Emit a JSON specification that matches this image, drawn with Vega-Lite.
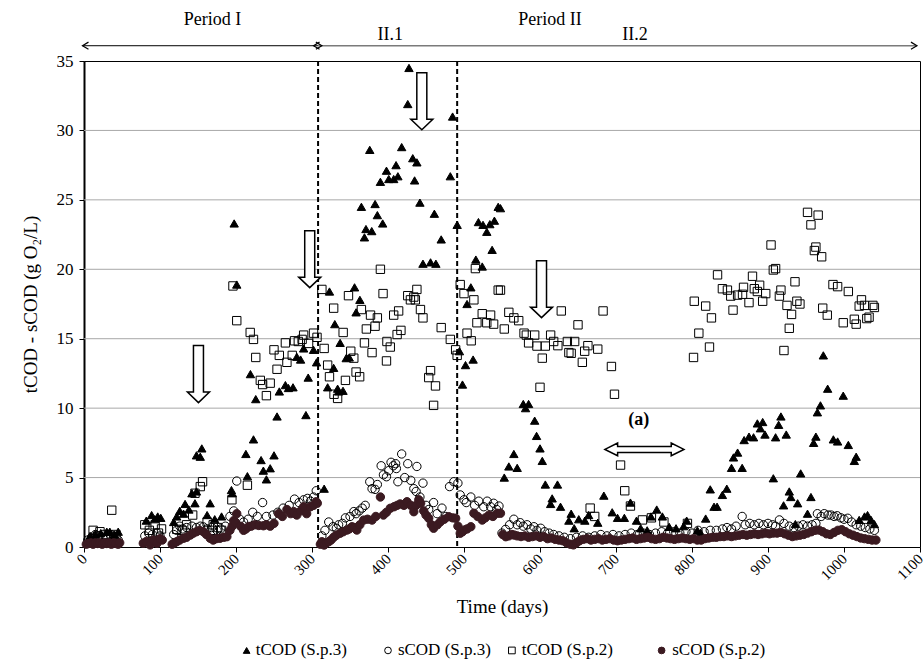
{
"$schema": "https://vega.github.io/schema/vega-lite/v6.json",
"width": 836, "height": 486,
"autosize": {"type": "none"},
"padding": {"left": 84, "top": 61, "right": 4, "bottom": 118},
"background": "white",
"config": {"font": "Liberation Serif", "view": {"stroke": "black", "strokeWidth": 1},
  "axisX": {"labelOverlap": false, "labelFlush": false, "grid": false, "labelAngle": -45, "labelAlign": "right", "labelBaseline": "middle", "labelFontSize": 15, "labelColor": "black", "tickColor": "black", "domainColor": "black"},
  "axisY": {"labelOverlap": false, "grid": false, "labelFontSize": 17, "labelColor": "black", "tickColor": "black", "domainColor": "black"}},
"datasets": {
"pts": [
{"s":"tCOD (S.p.3)","d":8,"v":0.8},{"s":"tCOD (S.p.3)","d":15,"v":0.9},{"s":"tCOD (S.p.3)","d":22,"v":1.0},{"s":"tCOD (S.p.3)","d":30,"v":1.1},{"s":"tCOD (S.p.3)","d":34,"v":1.1},{"s":"tCOD (S.p.3)","d":40,"v":0.9},{"s":"tCOD (S.p.3)","d":45,"v":1.1},
{"s":"tCOD (S.p.3)","d":82,"v":1.9},{"s":"tCOD (S.p.3)","d":89,"v":2.3},{"s":"tCOD (S.p.3)","d":93,"v":2.0},{"s":"tCOD (S.p.3)","d":97,"v":2.2},{"s":"tCOD (S.p.3)","d":101,"v":2.1},
{"s":"tCOD (S.p.3)","d":118,"v":1.8},{"s":"tCOD (S.p.3)","d":122,"v":2.2},{"s":"tCOD (S.p.3)","d":126,"v":2.6},{"s":"tCOD (S.p.3)","d":131,"v":2.4},{"s":"tCOD (S.p.3)","d":133,"v":3.1},{"s":"tCOD (S.p.3)","d":138,"v":2.7},{"s":"tCOD (S.p.3)","d":142,"v":3.87},{"s":"tCOD (S.p.3)","d":146,"v":3.15},{"s":"tCOD (S.p.3)","d":148,"v":4.0},{"s":"tCOD (S.p.3)","d":148,"v":6.6},{"s":"tCOD (S.p.3)","d":153,"v":6.5},{"s":"tCOD (S.p.3)","d":155,"v":7.1},{"s":"tCOD (S.p.3)","d":162,"v":2.3},{"s":"tCOD (S.p.3)","d":166,"v":3.15},{"s":"tCOD (S.p.3)","d":172,"v":2.0},{"s":"tCOD (S.p.3)","d":181,"v":2.2},{"s":"tCOD (S.p.3)","d":194,"v":4.1},{"s":"tCOD (S.p.3)","d":195,"v":3.87},{"s":"tCOD (S.p.3)","d":197.6,"v":23.3},{"s":"tCOD (S.p.3)","d":201,"v":18.9},{"s":"tCOD (S.p.3)","d":213,"v":6.7},{"s":"tCOD (S.p.3)","d":215,"v":5.1},{"s":"tCOD (S.p.3)","d":219,"v":12.45},{"s":"tCOD (S.p.3)","d":223,"v":7.75},{"s":"tCOD (S.p.3)","d":226,"v":10.65},{"s":"tCOD (S.p.3)","d":233,"v":6.26},{"s":"tCOD (S.p.3)","d":236,"v":5.5},{"s":"tCOD (S.p.3)","d":240,"v":4.87},{"s":"tCOD (S.p.3)","d":245,"v":5.67},{"s":"tCOD (S.p.3)","d":250,"v":6.6},{"s":"tCOD (S.p.3)","d":254,"v":9.4},{"s":"tCOD (S.p.3)","d":257,"v":11.2},{"s":"tCOD (S.p.3)","d":265,"v":11.66},{"s":"tCOD (S.p.3)","d":269,"v":11.45},{"s":"tCOD (S.p.3)","d":275,"v":11.5},{"s":"tCOD (S.p.3)","d":280,"v":13.7},{"s":"tCOD (S.p.3)","d":285,"v":13.5},{"s":"tCOD (S.p.3)","d":289,"v":14.3},{"s":"tCOD (S.p.3)","d":292,"v":9.5},{"s":"tCOD (S.p.3)","d":295,"v":12.2},{"s":"tCOD (S.p.3)","d":302,"v":14.2},{"s":"tCOD (S.p.3)","d":306,"v":13.3},
{"s":"tCOD (S.p.3)","d":316,"v":4.2},{"s":"tCOD (S.p.3)","d":320.6,"v":11.5},{"s":"tCOD (S.p.3)","d":323,"v":18.4},{"s":"tCOD (S.p.3)","d":328.5,"v":12.9},{"s":"tCOD (S.p.3)","d":330,"v":16.05},{"s":"tCOD (S.p.3)","d":333.7,"v":11.4},{"s":"tCOD (S.p.3)","d":335,"v":11.2},{"s":"tCOD (S.p.3)","d":337,"v":14.7},{"s":"tCOD (S.p.3)","d":340.8,"v":11.25},{"s":"tCOD (S.p.3)","d":345,"v":13.6},{"s":"tCOD (S.p.3)","d":349,"v":13.65},{"s":"tCOD (S.p.3)","d":356,"v":18.7},{"s":"tCOD (S.p.3)","d":358,"v":16.9},{"s":"tCOD (S.p.3)","d":363,"v":17.8},{"s":"tCOD (S.p.3)","d":365,"v":24.5},{"s":"tCOD (S.p.3)","d":369,"v":22.3},{"s":"tCOD (S.p.3)","d":371,"v":22.9},{"s":"tCOD (S.p.3)","d":376,"v":28.6},{"s":"tCOD (S.p.3)","d":378.6,"v":22.75},{"s":"tCOD (S.p.3)","d":383,"v":24.7},{"s":"tCOD (S.p.3)","d":386,"v":23.9},{"s":"tCOD (S.p.3)","d":390,"v":26.3},{"s":"tCOD (S.p.3)","d":393,"v":23.3},{"s":"tCOD (S.p.3)","d":398,"v":27.1},{"s":"tCOD (S.p.3)","d":401,"v":26.5},{"s":"tCOD (S.p.3)","d":407.5,"v":26.5},{"s":"tCOD (S.p.3)","d":410.6,"v":27.5},{"s":"tCOD (S.p.3)","d":413,"v":26.7},{"s":"tCOD (S.p.3)","d":418,"v":28.8},{"s":"tCOD (S.p.3)","d":426,"v":31.9},{"s":"tCOD (S.p.3)","d":427.6,"v":34.5},{"s":"tCOD (S.p.3)","d":432.6,"v":28.0},{"s":"tCOD (S.p.3)","d":435,"v":26.4},{"s":"tCOD (S.p.3)","d":438,"v":27.7},{"s":"tCOD (S.p.3)","d":442,"v":24.8},{"s":"tCOD (S.p.3)","d":446,"v":20.4},{"s":"tCOD (S.p.3)","d":456,"v":20.5},{"s":"tCOD (S.p.3)","d":461,"v":24.0},{"s":"tCOD (S.p.3)","d":463,"v":20.4},{"s":"tCOD (S.p.3)","d":470,"v":22.15},{"s":"tCOD (S.p.3)","d":482,"v":26.7},{"s":"tCOD (S.p.3)","d":485,"v":31.0},{"s":"tCOD (S.p.3)","d":491,"v":23.2},{"s":"tCOD (S.p.3)","d":494,"v":14.1},{"s":"tCOD (S.p.3)","d":498,"v":11.7},{"s":"tCOD (S.p.3)","d":502,"v":13.1},{"s":"tCOD (S.p.3)","d":504,"v":17.5},{"s":"tCOD (S.p.3)","d":509,"v":18.7},{"s":"tCOD (S.p.3)","d":512,"v":13.5},{"s":"tCOD (S.p.3)","d":515.6,"v":20.7},{"s":"tCOD (S.p.3)","d":519,"v":23.4},{"s":"tCOD (S.p.3)","d":524,"v":20.2},{"s":"tCOD (S.p.3)","d":525,"v":23.2},{"s":"tCOD (S.p.3)","d":530,"v":22.7},{"s":"tCOD (S.p.3)","d":534,"v":23.25},{"s":"tCOD (S.p.3)","d":537,"v":21.4},{"s":"tCOD (S.p.3)","d":540,"v":23.5},{"s":"tCOD (S.p.3)","d":545,"v":24.5},{"s":"tCOD (S.p.3)","d":548,"v":24.4},
{"s":"tCOD (S.p.3)","d":553,"v":5.0},{"s":"tCOD (S.p.3)","d":559,"v":5.8},{"s":"tCOD (S.p.3)","d":565.6,"v":6.7},{"s":"tCOD (S.p.3)","d":570,"v":5.7},{"s":"tCOD (S.p.3)","d":578,"v":10.3},{"s":"tCOD (S.p.3)","d":581,"v":10.0},{"s":"tCOD (S.p.3)","d":585,"v":10.3},{"s":"tCOD (S.p.3)","d":593,"v":9.1},{"s":"tCOD (S.p.3)","d":595.5,"v":8.0},{"s":"tCOD (S.p.3)","d":600,"v":7.1},{"s":"tCOD (S.p.3)","d":603,"v":6.2},{"s":"tCOD (S.p.3)","d":607,"v":4.5},{"s":"tCOD (S.p.3)","d":614,"v":3.1},{"s":"tCOD (S.p.3)","d":616,"v":3.5},{"s":"tCOD (S.p.3)","d":623,"v":4.5},{"s":"tCOD (S.p.3)","d":627,"v":2.9},{"s":"tCOD (S.p.3)","d":638,"v":1.9},{"s":"tCOD (S.p.3)","d":641,"v":2.4},{"s":"tCOD (S.p.3)","d":645,"v":1.35},{"s":"tCOD (S.p.3)","d":651,"v":2.0},{"s":"tCOD (S.p.3)","d":659,"v":1.9},{"s":"tCOD (S.p.3)","d":664,"v":2.3},{"s":"tCOD (S.p.3)","d":676,"v":1.75},{"s":"tCOD (S.p.3)","d":684,"v":3.7},{"s":"tCOD (S.p.3)","d":695,"v":2.5},{"s":"tCOD (S.p.3)","d":702,"v":2.1},{"s":"tCOD (S.p.3)","d":711,"v":2.1},{"s":"tCOD (S.p.3)","d":719,"v":3.2},{"s":"tCOD (S.p.3)","d":727,"v":1.9},{"s":"tCOD (S.p.3)","d":732.5,"v":1.35},{"s":"tCOD (S.p.3)","d":741,"v":1.2},{"s":"tCOD (S.p.3)","d":746,"v":2.2},{"s":"tCOD (S.p.3)","d":753.6,"v":2.7},{"s":"tCOD (S.p.3)","d":761,"v":2.2},{"s":"tCOD (S.p.3)","d":770,"v":1.45},{"s":"tCOD (S.p.3)","d":779,"v":1.35},{"s":"tCOD (S.p.3)","d":789,"v":1.5},{"s":"tCOD (S.p.3)","d":793,"v":1.9},{"s":"tCOD (S.p.3)","d":807,"v":1.2},{"s":"tCOD (S.p.3)","d":811.6,"v":1.0},{"s":"tCOD (S.p.3)","d":818,"v":2.05},{"s":"tCOD (S.p.3)","d":824,"v":4.15},{"s":"tCOD (S.p.3)","d":829,"v":2.9},{"s":"tCOD (S.p.3)","d":833,"v":2.9},{"s":"tCOD (S.p.3)","d":840,"v":3.75},{"s":"tCOD (S.p.3)","d":845.8,"v":4.2},{"s":"tCOD (S.p.3)","d":852,"v":5.7},{"s":"tCOD (S.p.3)","d":854.6,"v":6.45},{"s":"tCOD (S.p.3)","d":860,"v":6.8},{"s":"tCOD (S.p.3)","d":866,"v":5.7},{"s":"tCOD (S.p.3)","d":868.6,"v":7.7},{"s":"tCOD (S.p.3)","d":875,"v":7.95},{"s":"tCOD (S.p.3)","d":881,"v":7.9},{"s":"tCOD (S.p.3)","d":886,"v":8.9},{"s":"tCOD (S.p.3)","d":890,"v":8.55},{"s":"tCOD (S.p.3)","d":893,"v":9.0},{"s":"tCOD (S.p.3)","d":896,"v":8.1},{"s":"tCOD (S.p.3)","d":907,"v":4.95},{"s":"tCOD (S.p.3)","d":910,"v":7.9},{"s":"tCOD (S.p.3)","d":914,"v":8.8},{"s":"tCOD (S.p.3)","d":917,"v":9.4},{"s":"tCOD (S.p.3)","d":920.5,"v":3.0},{"s":"tCOD (S.p.3)","d":924,"v":8.1},{"s":"tCOD (S.p.3)","d":928,"v":4.0},{"s":"tCOD (S.p.3)","d":930,"v":3.6},{"s":"tCOD (S.p.3)","d":936,"v":1.65},{"s":"tCOD (S.p.3)","d":939,"v":3.15},{"s":"tCOD (S.p.3)","d":943,"v":5.3},{"s":"tCOD (S.p.3)","d":952,"v":2.4},{"s":"tCOD (S.p.3)","d":956.5,"v":3.6},{"s":"tCOD (S.p.3)","d":960,"v":7.5},{"s":"tCOD (S.p.3)","d":963,"v":7.95},{"s":"tCOD (S.p.3)","d":965,"v":9.7},{"s":"tCOD (S.p.3)","d":969,"v":10.2},{"s":"tCOD (S.p.3)","d":972.8,"v":13.8},{"s":"tCOD (S.p.3)","d":978.5,"v":11.4},{"s":"tCOD (S.p.3)","d":986,"v":7.75},{"s":"tCOD (S.p.3)","d":991.6,"v":7.6},{"s":"tCOD (S.p.3)","d":999,"v":10.9},{"s":"tCOD (S.p.3)","d":1005.7,"v":7.35},{"s":"tCOD (S.p.3)","d":1013.6,"v":6.2},{"s":"tCOD (S.p.3)","d":1016,"v":6.5},{"s":"tCOD (S.p.3)","d":1020,"v":1.95},{"s":"tCOD (S.p.3)","d":1027,"v":2.2},{"s":"tCOD (S.p.3)","d":1031,"v":2.3},{"s":"tCOD (S.p.3)","d":1035.6,"v":1.95},{"s":"tCOD (S.p.3)","d":1040,"v":1.65},
{"s":"sCOD (S.p.3)","d":5,"v":0.5},{"s":"sCOD (S.p.3)","d":10,"v":0.7},{"s":"sCOD (S.p.3)","d":15,"v":0.9},{"s":"sCOD (S.p.3)","d":20,"v":0.8},{"s":"sCOD (S.p.3)","d":25,"v":0.6},{"s":"sCOD (S.p.3)","d":30,"v":0.7},{"s":"sCOD (S.p.3)","d":35,"v":0.9},{"s":"sCOD (S.p.3)","d":40,"v":0.6},{"s":"sCOD (S.p.3)","d":45,"v":0.5},
{"s":"sCOD (S.p.3)","d":80,"v":0.8},{"s":"sCOD (S.p.3)","d":85,"v":1.0},{"s":"sCOD (S.p.3)","d":90,"v":0.9},{"s":"sCOD (S.p.3)","d":96,"v":1.0},{"s":"sCOD (S.p.3)","d":100,"v":0.8},
{"s":"sCOD (S.p.3)","d":118,"v":0.9},{"s":"sCOD (S.p.3)","d":122,"v":1.2},{"s":"sCOD (S.p.3)","d":126,"v":1.5},{"s":"sCOD (S.p.3)","d":130,"v":1.3},{"s":"sCOD (S.p.3)","d":135,"v":1.4},{"s":"sCOD (S.p.3)","d":142,"v":1.5},{"s":"sCOD (S.p.3)","d":148,"v":1.4},{"s":"sCOD (S.p.3)","d":153,"v":1.5},{"s":"sCOD (S.p.3)","d":157,"v":1.45},{"s":"sCOD (S.p.3)","d":162,"v":1.3},{"s":"sCOD (S.p.3)","d":168,"v":1.4},{"s":"sCOD (S.p.3)","d":175,"v":1.2},{"s":"sCOD (S.p.3)","d":180,"v":1.3},{"s":"sCOD (S.p.3)","d":186,"v":1.5},{"s":"sCOD (S.p.3)","d":192,"v":2.2},{"s":"sCOD (S.p.3)","d":197,"v":2.6},{"s":"sCOD (S.p.3)","d":201,"v":4.75},{"s":"sCOD (S.p.3)","d":205,"v":2.0},{"s":"sCOD (S.p.3)","d":210,"v":1.8},{"s":"sCOD (S.p.3)","d":216,"v":2.0},{"s":"sCOD (S.p.3)","d":222,"v":2.5},{"s":"sCOD (S.p.3)","d":228,"v":2.2},{"s":"sCOD (S.p.3)","d":235,"v":3.2},{"s":"sCOD (S.p.3)","d":240,"v":2.2},{"s":"sCOD (S.p.3)","d":248.6,"v":2.3},{"s":"sCOD (S.p.3)","d":255,"v":2.5},{"s":"sCOD (S.p.3)","d":262,"v":2.8},{"s":"sCOD (S.p.3)","d":270,"v":3.0},{"s":"sCOD (S.p.3)","d":277,"v":3.45},{"s":"sCOD (S.p.3)","d":283,"v":3.2},{"s":"sCOD (S.p.3)","d":289,"v":3.4},{"s":"sCOD (S.p.3)","d":294,"v":3.5},{"s":"sCOD (S.p.3)","d":298,"v":3.3},{"s":"sCOD (S.p.3)","d":302,"v":3.6},{"s":"sCOD (S.p.3)","d":305.6,"v":4.05},
{"s":"sCOD (S.p.3)","d":313,"v":0.8},{"s":"sCOD (S.p.3)","d":317,"v":1.2},{"s":"sCOD (S.p.3)","d":322,"v":1.8},{"s":"sCOD (S.p.3)","d":327.6,"v":1.46},{"s":"sCOD (S.p.3)","d":332,"v":1.35},{"s":"sCOD (S.p.3)","d":335,"v":1.6},{"s":"sCOD (S.p.3)","d":340,"v":1.7},{"s":"sCOD (S.p.3)","d":344,"v":2.1},{"s":"sCOD (S.p.3)","d":350,"v":2.2},{"s":"sCOD (S.p.3)","d":355,"v":2.55},{"s":"sCOD (S.p.3)","d":358,"v":2.4},{"s":"sCOD (S.p.3)","d":362,"v":2.6},{"s":"sCOD (S.p.3)","d":366,"v":2.8},{"s":"sCOD (S.p.3)","d":370,"v":3.0},{"s":"sCOD (S.p.3)","d":376,"v":4.7},{"s":"sCOD (S.p.3)","d":379,"v":4.2},{"s":"sCOD (S.p.3)","d":383,"v":4.15},{"s":"sCOD (S.p.3)","d":386,"v":4.5},{"s":"sCOD (S.p.3)","d":391,"v":5.85},{"s":"sCOD (S.p.3)","d":394,"v":5.2},{"s":"sCOD (S.p.3)","d":398,"v":5.06},{"s":"sCOD (S.p.3)","d":401,"v":5.5},{"s":"sCOD (S.p.3)","d":404,"v":6.1},{"s":"sCOD (S.p.3)","d":407,"v":5.85},{"s":"sCOD (S.p.3)","d":410,"v":6.0},{"s":"sCOD (S.p.3)","d":411,"v":5.65},{"s":"sCOD (S.p.3)","d":413,"v":4.7},{"s":"sCOD (S.p.3)","d":418,"v":6.7},{"s":"sCOD (S.p.3)","d":422,"v":5.0},{"s":"sCOD (S.p.3)","d":426,"v":6.0},{"s":"sCOD (S.p.3)","d":430,"v":4.8},{"s":"sCOD (S.p.3)","d":434,"v":4.2},{"s":"sCOD (S.p.3)","d":437,"v":4.0},{"s":"sCOD (S.p.3)","d":438,"v":5.8},{"s":"sCOD (S.p.3)","d":442,"v":3.6},{"s":"sCOD (S.p.3)","d":446,"v":4.6},{"s":"sCOD (S.p.3)","d":450,"v":3.0},{"s":"sCOD (S.p.3)","d":453.6,"v":2.7},{"s":"sCOD (S.p.3)","d":460,"v":3.2},{"s":"sCOD (S.p.3)","d":464.7,"v":2.4},{"s":"sCOD (S.p.3)","d":471,"v":2.8},{"s":"sCOD (S.p.3)","d":476,"v":2.2},{"s":"sCOD (S.p.3)","d":481,"v":4.35},{"s":"sCOD (S.p.3)","d":486.6,"v":4.7},{"s":"sCOD (S.p.3)","d":492,"v":4.6},{"s":"sCOD (S.p.3)","d":495,"v":3.75},{"s":"sCOD (S.p.3)","d":500,"v":3.4},{"s":"sCOD (S.p.3)","d":503,"v":3.2},{"s":"sCOD (S.p.3)","d":509,"v":3.6},{"s":"sCOD (S.p.3)","d":514,"v":3.0},{"s":"sCOD (S.p.3)","d":519.5,"v":3.3},{"s":"sCOD (S.p.3)","d":526,"v":2.9},{"s":"sCOD (S.p.3)","d":530.5,"v":3.3},{"s":"sCOD (S.p.3)","d":535,"v":2.9},{"s":"sCOD (S.p.3)","d":539,"v":3.15},{"s":"sCOD (S.p.3)","d":543,"v":2.7},{"s":"sCOD (S.p.3)","d":546,"v":2.95},
{"s":"sCOD (S.p.3)","d":550,"v":1.0},{"s":"sCOD (S.p.3)","d":554.7,"v":1.27},{"s":"sCOD (S.p.3)","d":560,"v":1.6},{"s":"sCOD (S.p.3)","d":565.6,"v":2.0},{"s":"sCOD (S.p.3)","d":570,"v":1.6},{"s":"sCOD (S.p.3)","d":574,"v":1.75},{"s":"sCOD (S.p.3)","d":578,"v":1.5},{"s":"sCOD (S.p.3)","d":583,"v":1.6},{"s":"sCOD (S.p.3)","d":588,"v":1.3},{"s":"sCOD (S.p.3)","d":592,"v":1.46},{"s":"sCOD (S.p.3)","d":596,"v":1.2},{"s":"sCOD (S.p.3)","d":601,"v":1.35},{"s":"sCOD (S.p.3)","d":606,"v":1.1},{"s":"sCOD (S.p.3)","d":612,"v":1.0},{"s":"sCOD (S.p.3)","d":618,"v":0.9},{"s":"sCOD (S.p.3)","d":625,"v":0.8},{"s":"sCOD (S.p.3)","d":632,"v":0.7},{"s":"sCOD (S.p.3)","d":640,"v":0.6},{"s":"sCOD (S.p.3)","d":648,"v":0.7},{"s":"sCOD (S.p.3)","d":656,"v":0.8},{"s":"sCOD (S.p.3)","d":664,"v":0.7},{"s":"sCOD (S.p.3)","d":672,"v":0.8},{"s":"sCOD (S.p.3)","d":680,"v":0.9},{"s":"sCOD (S.p.3)","d":688,"v":0.8},{"s":"sCOD (S.p.3)","d":696,"v":0.9},{"s":"sCOD (S.p.3)","d":704,"v":0.8},{"s":"sCOD (S.p.3)","d":712,"v":0.9},{"s":"sCOD (S.p.3)","d":720,"v":1.0},{"s":"sCOD (S.p.3)","d":728,"v":0.9},{"s":"sCOD (S.p.3)","d":736,"v":1.0},{"s":"sCOD (S.p.3)","d":744,"v":0.9},{"s":"sCOD (S.p.3)","d":752,"v":1.0},{"s":"sCOD (S.p.3)","d":760,"v":1.1},{"s":"sCOD (S.p.3)","d":768,"v":1.0},{"s":"sCOD (S.p.3)","d":776,"v":1.1},{"s":"sCOD (S.p.3)","d":784,"v":1.0},{"s":"sCOD (S.p.3)","d":792,"v":1.1},{"s":"sCOD (S.p.3)","d":800,"v":1.0},{"s":"sCOD (S.p.3)","d":808,"v":1.2},{"s":"sCOD (S.p.3)","d":816,"v":1.1},{"s":"sCOD (S.p.3)","d":824,"v":1.2},{"s":"sCOD (S.p.3)","d":832,"v":1.2},{"s":"sCOD (S.p.3)","d":840,"v":1.3},{"s":"sCOD (S.p.3)","d":846,"v":1.4},{"s":"sCOD (S.p.3)","d":852,"v":1.3},{"s":"sCOD (S.p.3)","d":858,"v":1.5},{"s":"sCOD (S.p.3)","d":866,"v":2.2},{"s":"sCOD (S.p.3)","d":870,"v":1.6},{"s":"sCOD (S.p.3)","d":876,"v":1.7},{"s":"sCOD (S.p.3)","d":882,"v":1.6},{"s":"sCOD (S.p.3)","d":888,"v":1.7},{"s":"sCOD (S.p.3)","d":894,"v":1.6},{"s":"sCOD (S.p.3)","d":900,"v":1.7},{"s":"sCOD (S.p.3)","d":906,"v":1.6},{"s":"sCOD (S.p.3)","d":910,"v":1.5},{"s":"sCOD (S.p.3)","d":915,"v":1.95},{"s":"sCOD (S.p.3)","d":921,"v":1.7},{"s":"sCOD (S.p.3)","d":928,"v":1.5},{"s":"sCOD (S.p.3)","d":934,"v":1.4},{"s":"sCOD (S.p.3)","d":940,"v":1.5},{"s":"sCOD (S.p.3)","d":946,"v":1.6},{"s":"sCOD (S.p.3)","d":952,"v":1.5},{"s":"sCOD (S.p.3)","d":958,"v":1.6},{"s":"sCOD (S.p.3)","d":963,"v":1.7},{"s":"sCOD (S.p.3)","d":965,"v":2.4},{"s":"sCOD (S.p.3)","d":970,"v":2.2},{"s":"sCOD (S.p.3)","d":974,"v":2.4},{"s":"sCOD (S.p.3)","d":979,"v":2.3},{"s":"sCOD (S.p.3)","d":983,"v":2.3},{"s":"sCOD (S.p.3)","d":987,"v":2.2},{"s":"sCOD (S.p.3)","d":991,"v":2.25},{"s":"sCOD (S.p.3)","d":996,"v":2.1},{"s":"sCOD (S.p.3)","d":1000,"v":2.0},{"s":"sCOD (S.p.3)","d":1005,"v":2.07},{"s":"sCOD (S.p.3)","d":1010,"v":1.8},{"s":"sCOD (S.p.3)","d":1016,"v":1.6},{"s":"sCOD (S.p.3)","d":1022,"v":1.5},{"s":"sCOD (S.p.3)","d":1028,"v":1.4},{"s":"sCOD (S.p.3)","d":1034,"v":1.3},{"s":"sCOD (S.p.3)","d":1040,"v":1.2},
{"s":"tCOD (S.p.2)","d":12,"v":1.2},{"s":"tCOD (S.p.2)","d":18,"v":0.8},{"s":"tCOD (S.p.2)","d":21,"v":1.1},{"s":"tCOD (S.p.2)","d":28,"v":0.9},{"s":"tCOD (S.p.2)","d":36.5,"v":2.65},{"s":"tCOD (S.p.2)","d":42,"v":0.9},
{"s":"tCOD (S.p.2)","d":80,"v":1.6},{"s":"tCOD (S.p.2)","d":86,"v":1.2},{"s":"tCOD (S.p.2)","d":93.6,"v":1.6},{"s":"tCOD (S.p.2)","d":98,"v":1.0},{"s":"tCOD (S.p.2)","d":102,"v":1.3},
{"s":"tCOD (S.p.2)","d":122,"v":1.27},{"s":"tCOD (S.p.2)","d":129,"v":1.2},{"s":"tCOD (S.p.2)","d":135,"v":1.6},{"s":"tCOD (S.p.2)","d":143,"v":2.3},{"s":"tCOD (S.p.2)","d":146,"v":3.87},{"s":"tCOD (S.p.2)","d":153,"v":4.35},{"s":"tCOD (S.p.2)","d":156,"v":4.7},{"s":"tCOD (S.p.2)","d":162,"v":1.8},{"s":"tCOD (S.p.2)","d":169,"v":1.2},{"s":"tCOD (S.p.2)","d":170,"v":1.6},{"s":"tCOD (S.p.2)","d":176,"v":1.4},{"s":"tCOD (S.p.2)","d":181,"v":1.2},{"s":"tCOD (S.p.2)","d":194.6,"v":3.4},{"s":"tCOD (S.p.2)","d":196,"v":18.8},{"s":"tCOD (S.p.2)","d":201,"v":16.3},{"s":"tCOD (S.p.2)","d":215,"v":4.45},{"s":"tCOD (S.p.2)","d":218.7,"v":15.45},{"s":"tCOD (S.p.2)","d":223,"v":14.95},{"s":"tCOD (S.p.2)","d":226,"v":13.65},{"s":"tCOD (S.p.2)","d":232,"v":12.0},{"s":"tCOD (S.p.2)","d":235,"v":11.7},{"s":"tCOD (S.p.2)","d":240,"v":10.9},{"s":"tCOD (S.p.2)","d":245,"v":11.8},{"s":"tCOD (S.p.2)","d":250,"v":14.2},{"s":"tCOD (S.p.2)","d":254,"v":12.8},{"s":"tCOD (S.p.2)","d":257,"v":13.8},{"s":"tCOD (S.p.2)","d":265,"v":14.7},{"s":"tCOD (S.p.2)","d":267,"v":13.3},{"s":"tCOD (S.p.2)","d":274,"v":13.8},{"s":"tCOD (S.p.2)","d":277,"v":14.85},{"s":"tCOD (S.p.2)","d":282,"v":14.8},{"s":"tCOD (S.p.2)","d":287,"v":14.95},{"s":"tCOD (S.p.2)","d":289,"v":15.26},{"s":"tCOD (S.p.2)","d":295.5,"v":14.66},{"s":"tCOD (S.p.2)","d":302,"v":15.4},{"s":"tCOD (S.p.2)","d":306.6,"v":15.1},
{"s":"tCOD (S.p.2)","d":313,"v":18.55},{"s":"tCOD (S.p.2)","d":316,"v":14.3},{"s":"tCOD (S.p.2)","d":320.6,"v":13.1},{"s":"tCOD (S.p.2)","d":323,"v":12.26},{"s":"tCOD (S.p.2)","d":328.5,"v":17.2},{"s":"tCOD (S.p.2)","d":329,"v":11.0},{"s":"tCOD (S.p.2)","d":333.7,"v":10.7},{"s":"tCOD (S.p.2)","d":341,"v":15.45},{"s":"tCOD (S.p.2)","d":344,"v":12.0},{"s":"tCOD (S.p.2)","d":348,"v":18.1},{"s":"tCOD (S.p.2)","d":351,"v":14.1},{"s":"tCOD (S.p.2)","d":355,"v":13.6},{"s":"tCOD (S.p.2)","d":358,"v":12.6},{"s":"tCOD (S.p.2)","d":362.7,"v":12.26},{"s":"tCOD (S.p.2)","d":365,"v":17.1},{"s":"tCOD (S.p.2)","d":369,"v":14.7},{"s":"tCOD (S.p.2)","d":371.5,"v":15.7},{"s":"tCOD (S.p.2)","d":377,"v":16.7},{"s":"tCOD (S.p.2)","d":379,"v":14.0},{"s":"tCOD (S.p.2)","d":383,"v":15.9},{"s":"tCOD (S.p.2)","d":386,"v":16.5},{"s":"tCOD (S.p.2)","d":390,"v":20.0},{"s":"tCOD (S.p.2)","d":393.5,"v":18.25},{"s":"tCOD (S.p.2)","d":398,"v":13.4},{"s":"tCOD (S.p.2)","d":398.6,"v":14.8},{"s":"tCOD (S.p.2)","d":403,"v":14.4},{"s":"tCOD (S.p.2)","d":407.5,"v":16.7},{"s":"tCOD (S.p.2)","d":412,"v":15.3},{"s":"tCOD (S.p.2)","d":414,"v":17.0},{"s":"tCOD (S.p.2)","d":417,"v":15.6},{"s":"tCOD (S.p.2)","d":426,"v":18.1},{"s":"tCOD (S.p.2)","d":429.5,"v":17.8},{"s":"tCOD (S.p.2)","d":434,"v":18.0},{"s":"tCOD (S.p.2)","d":436,"v":17.8},{"s":"tCOD (S.p.2)","d":438,"v":18.55},{"s":"tCOD (S.p.2)","d":442.7,"v":17.1},{"s":"tCOD (S.p.2)","d":446,"v":16.5},{"s":"tCOD (S.p.2)","d":453.6,"v":12.2},{"s":"tCOD (S.p.2)","d":456,"v":12.7},{"s":"tCOD (S.p.2)","d":460,"v":10.2},{"s":"tCOD (S.p.2)","d":462.5,"v":11.6},{"s":"tCOD (S.p.2)","d":470,"v":15.8},{"s":"tCOD (S.p.2)","d":482,"v":14.95},{"s":"tCOD (S.p.2)","d":489,"v":14.2},{"s":"tCOD (S.p.2)","d":491,"v":13.8},{"s":"tCOD (S.p.2)","d":495,"v":18.9},{"s":"tCOD (S.p.2)","d":500,"v":18.25},{"s":"tCOD (S.p.2)","d":504,"v":15.4},{"s":"tCOD (S.p.2)","d":509.5,"v":14.85},{"s":"tCOD (S.p.2)","d":513,"v":17.8},{"s":"tCOD (S.p.2)","d":515,"v":20.05},{"s":"tCOD (S.p.2)","d":517,"v":16.15},{"s":"tCOD (S.p.2)","d":524,"v":16.8},{"s":"tCOD (S.p.2)","d":530,"v":16.15},{"s":"tCOD (S.p.2)","d":535,"v":16.7},{"s":"tCOD (S.p.2)","d":539,"v":16.05},{"s":"tCOD (S.p.2)","d":545,"v":18.5},
{"s":"tCOD (S.p.2)","d":548,"v":18.5},{"s":"tCOD (S.p.2)","d":553,"v":15.7},{"s":"tCOD (S.p.2)","d":559,"v":16.9},{"s":"tCOD (S.p.2)","d":565.6,"v":16.5},{"s":"tCOD (S.p.2)","d":572,"v":16.3},{"s":"tCOD (S.p.2)","d":579,"v":15.4},{"s":"tCOD (S.p.2)","d":582,"v":15.26},{"s":"tCOD (S.p.2)","d":585,"v":14.7},{"s":"tCOD (S.p.2)","d":593,"v":15.26},{"s":"tCOD (S.p.2)","d":596,"v":14.47},{"s":"tCOD (S.p.2)","d":600,"v":11.5},{"s":"tCOD (S.p.2)","d":603,"v":13.6},{"s":"tCOD (S.p.2)","d":607,"v":14.47},{"s":"tCOD (S.p.2)","d":614,"v":15.26},{"s":"tCOD (S.p.2)","d":618,"v":14.8},{"s":"tCOD (S.p.2)","d":623.5,"v":14.5},{"s":"tCOD (S.p.2)","d":628,"v":17.0},{"s":"tCOD (S.p.2)","d":636,"v":14.8},{"s":"tCOD (S.p.2)","d":638,"v":14.0},{"s":"tCOD (S.p.2)","d":641,"v":13.95},{"s":"tCOD (S.p.2)","d":645.6,"v":14.8},{"s":"tCOD (S.p.2)","d":650,"v":16.0},{"s":"tCOD (S.p.2)","d":655.7,"v":13.3},{"s":"tCOD (S.p.2)","d":658.8,"v":14.1},{"s":"tCOD (S.p.2)","d":663,"v":14.5},{"s":"tCOD (S.p.2)","d":666,"v":2.8},{"s":"tCOD (S.p.2)","d":672,"v":2.2},{"s":"tCOD (S.p.2)","d":676,"v":14.25},{"s":"tCOD (S.p.2)","d":683,"v":17.0},{"s":"tCOD (S.p.2)","d":694,"v":13.0},{"s":"tCOD (S.p.2)","d":698,"v":11.0},{"s":"tCOD (S.p.2)","d":706,"v":5.9},{"s":"tCOD (S.p.2)","d":711.5,"v":4.05},{"s":"tCOD (S.p.2)","d":719,"v":2.95},{"s":"tCOD (S.p.2)","d":734.8,"v":1.95},{"s":"tCOD (S.p.2)","d":746.6,"v":2.1},{"s":"tCOD (S.p.2)","d":763,"v":1.8},{"s":"tCOD (S.p.2)","d":794,"v":1.7},{"s":"tCOD (S.p.2)","d":802,"v":13.65},{"s":"tCOD (S.p.2)","d":803,"v":17.7},{"s":"tCOD (S.p.2)","d":809,"v":15.4},{"s":"tCOD (S.p.2)","d":818,"v":17.35},{"s":"tCOD (S.p.2)","d":823,"v":14.4},{"s":"tCOD (S.p.2)","d":825.6,"v":16.5},{"s":"tCOD (S.p.2)","d":833.6,"v":19.6},{"s":"tCOD (S.p.2)","d":840,"v":18.6},{"s":"tCOD (S.p.2)","d":846.6,"v":18.5},{"s":"tCOD (S.p.2)","d":851,"v":18.07},{"s":"tCOD (S.p.2)","d":854,"v":17.06},{"s":"tCOD (S.p.2)","d":860,"v":18.14},{"s":"tCOD (S.p.2)","d":866.5,"v":18.2},{"s":"tCOD (S.p.2)","d":867.8,"v":18.7},{"s":"tCOD (S.p.2)","d":875,"v":17.6},{"s":"tCOD (S.p.2)","d":879.6,"v":19.5},{"s":"tCOD (S.p.2)","d":882,"v":18.6},{"s":"tCOD (S.p.2)","d":886,"v":18.4},{"s":"tCOD (S.p.2)","d":889,"v":18.85},{"s":"tCOD (S.p.2)","d":893,"v":17.7},{"s":"tCOD (S.p.2)","d":897,"v":18.25},{"s":"tCOD (S.p.2)","d":904,"v":21.75},{"s":"tCOD (S.p.2)","d":907,"v":19.95},{"s":"tCOD (S.p.2)","d":910,"v":20.05},{"s":"tCOD (S.p.2)","d":915,"v":18.07},{"s":"tCOD (S.p.2)","d":917,"v":18.5},{"s":"tCOD (S.p.2)","d":921,"v":14.15},{"s":"tCOD (S.p.2)","d":925,"v":17.4},{"s":"tCOD (S.p.2)","d":928,"v":15.75},{"s":"tCOD (S.p.2)","d":931,"v":16.75},{"s":"tCOD (S.p.2)","d":935.5,"v":19.1},{"s":"tCOD (S.p.2)","d":938,"v":17.7},{"s":"tCOD (S.p.2)","d":942,"v":17.5},{"s":"tCOD (S.p.2)","d":952,"v":24.1},{"s":"tCOD (S.p.2)","d":956.5,"v":23.2},{"s":"tCOD (S.p.2)","d":961,"v":21.35},{"s":"tCOD (S.p.2)","d":963,"v":21.6},{"s":"tCOD (S.p.2)","d":966,"v":23.9},{"s":"tCOD (S.p.2)","d":970.6,"v":20.9},{"s":"tCOD (S.p.2)","d":972,"v":17.2},{"s":"tCOD (S.p.2)","d":978,"v":16.7},{"s":"tCOD (S.p.2)","d":985.5,"v":18.9},{"s":"tCOD (S.p.2)","d":991.6,"v":18.75},{"s":"tCOD (S.p.2)","d":999,"v":16.15},{"s":"tCOD (S.p.2)","d":1005.7,"v":18.4},{"s":"tCOD (S.p.2)","d":1013.6,"v":16.4},{"s":"tCOD (S.p.2)","d":1016,"v":16.05},{"s":"tCOD (S.p.2)","d":1020,"v":17.35},{"s":"tCOD (S.p.2)","d":1023,"v":17.8},{"s":"tCOD (S.p.2)","d":1027,"v":17.4},{"s":"tCOD (S.p.2)","d":1030,"v":16.45},{"s":"tCOD (S.p.2)","d":1033,"v":16.55},{"s":"tCOD (S.p.2)","d":1038,"v":17.4},{"s":"tCOD (S.p.2)","d":1040,"v":17.25},
{"s":"sCOD (S.p.2)","d":3,"v":0.2},{"s":"sCOD (S.p.2)","d":6,"v":0.25},{"s":"sCOD (S.p.2)","d":9,"v":0.3},{"s":"sCOD (S.p.2)","d":12,"v":0.2},{"s":"sCOD (S.p.2)","d":15,"v":0.3},{"s":"sCOD (S.p.2)","d":18,"v":0.25},{"s":"sCOD (S.p.2)","d":21,"v":0.3},{"s":"sCOD (S.p.2)","d":24,"v":0.2},{"s":"sCOD (S.p.2)","d":27,"v":0.3},{"s":"sCOD (S.p.2)","d":30,"v":0.25},{"s":"sCOD (S.p.2)","d":33,"v":0.3},{"s":"sCOD (S.p.2)","d":36,"v":0.2},{"s":"sCOD (S.p.2)","d":39,"v":0.3},{"s":"sCOD (S.p.2)","d":42,"v":0.25},{"s":"sCOD (S.p.2)","d":45,"v":0.2},{"s":"sCOD (S.p.2)","d":47,"v":0.3},
{"s":"sCOD (S.p.2)","d":78,"v":0.27},{"s":"sCOD (S.p.2)","d":82,"v":0.4},{"s":"sCOD (S.p.2)","d":87,"v":0.15},{"s":"sCOD (S.p.2)","d":91,"v":0.5},{"s":"sCOD (S.p.2)","d":96,"v":0.27},{"s":"sCOD (S.p.2)","d":100,"v":0.6},{"s":"sCOD (S.p.2)","d":103,"v":0.5},
{"s":"sCOD (S.p.2)","d":116,"v":0.2},{"s":"sCOD (S.p.2)","d":119,"v":0.3},{"s":"sCOD (S.p.2)","d":122,"v":0.38},{"s":"sCOD (S.p.2)","d":126,"v":0.5},{"s":"sCOD (S.p.2)","d":131,"v":0.63},{"s":"sCOD (S.p.2)","d":135,"v":0.7},{"s":"sCOD (S.p.2)","d":140,"v":0.86},{"s":"sCOD (S.p.2)","d":144,"v":1.0},{"s":"sCOD (S.p.2)","d":148,"v":1.1},{"s":"sCOD (S.p.2)","d":152,"v":1.2},{"s":"sCOD (S.p.2)","d":157,"v":1.1},{"s":"sCOD (S.p.2)","d":161,"v":0.9},{"s":"sCOD (S.p.2)","d":166,"v":0.63},{"s":"sCOD (S.p.2)","d":170,"v":0.5},{"s":"sCOD (S.p.2)","d":174,"v":0.6},{"s":"sCOD (S.p.2)","d":179,"v":0.63},{"s":"sCOD (S.p.2)","d":184,"v":0.7},{"s":"sCOD (S.p.2)","d":188,"v":0.74},{"s":"sCOD (S.p.2)","d":192,"v":1.2},{"s":"sCOD (S.p.2)","d":195,"v":1.5},{"s":"sCOD (S.p.2)","d":197,"v":1.9},{"s":"sCOD (S.p.2)","d":199,"v":1.8},{"s":"sCOD (S.p.2)","d":201,"v":2.4},
{"s":"sCOD (S.p.2)","d":206,"v":1.5},{"s":"sCOD (S.p.2)","d":210,"v":1.2},{"s":"sCOD (S.p.2)","d":213,"v":1.3},{"s":"sCOD (S.p.2)","d":216.5,"v":1.46},{"s":"sCOD (S.p.2)","d":220,"v":1.5},{"s":"sCOD (S.p.2)","d":225,"v":1.6},{"s":"sCOD (S.p.2)","d":230,"v":1.55},{"s":"sCOD (S.p.2)","d":236,"v":1.53},{"s":"sCOD (S.p.2)","d":240,"v":1.6},{"s":"sCOD (S.p.2)","d":245,"v":1.5},{"s":"sCOD (S.p.2)","d":250,"v":1.7},{"s":"sCOD (S.p.2)","d":256,"v":2.4},{"s":"sCOD (S.p.2)","d":261,"v":2.2},{"s":"sCOD (S.p.2)","d":267,"v":2.7},{"s":"sCOD (S.p.2)","d":272,"v":2.4},{"s":"sCOD (S.p.2)","d":276,"v":2.55},{"s":"sCOD (S.p.2)","d":280,"v":2.3},{"s":"sCOD (S.p.2)","d":285,"v":2.6},{"s":"sCOD (S.p.2)","d":289,"v":2.9},{"s":"sCOD (S.p.2)","d":293,"v":2.4},{"s":"sCOD (S.p.2)","d":298,"v":2.9},{"s":"sCOD (S.p.2)","d":302,"v":3.0},{"s":"sCOD (S.p.2)","d":305.6,"v":3.26},{"s":"sCOD (S.p.2)","d":307,"v":3.15},
{"s":"sCOD (S.p.2)","d":311,"v":0.2},{"s":"sCOD (S.p.2)","d":313,"v":0.38},{"s":"sCOD (S.p.2)","d":316,"v":0.14},{"s":"sCOD (S.p.2)","d":319,"v":0.3},{"s":"sCOD (S.p.2)","d":322,"v":0.38},{"s":"sCOD (S.p.2)","d":325,"v":0.5},{"s":"sCOD (S.p.2)","d":328.5,"v":0.7},{"s":"sCOD (S.p.2)","d":332,"v":0.85},{"s":"sCOD (S.p.2)","d":337,"v":0.99},{"s":"sCOD (S.p.2)","d":341,"v":1.1},{"s":"sCOD (S.p.2)","d":346,"v":1.22},{"s":"sCOD (S.p.2)","d":349,"v":1.3},{"s":"sCOD (S.p.2)","d":352.7,"v":1.46},{"s":"sCOD (S.p.2)","d":356,"v":1.4},{"s":"sCOD (S.p.2)","d":359,"v":1.22},{"s":"sCOD (S.p.2)","d":363,"v":1.6},{"s":"sCOD (S.p.2)","d":368,"v":1.94},{"s":"sCOD (S.p.2)","d":373,"v":2.0},{"s":"sCOD (S.p.2)","d":379,"v":1.94},{"s":"sCOD (S.p.2)","d":384,"v":2.2},{"s":"sCOD (S.p.2)","d":390,"v":3.6},{"s":"sCOD (S.p.2)","d":394,"v":2.3},{"s":"sCOD (S.p.2)","d":398,"v":2.5},{"s":"sCOD (S.p.2)","d":403,"v":2.79},{"s":"sCOD (S.p.2)","d":408,"v":2.9},{"s":"sCOD (S.p.2)","d":412,"v":3.0},{"s":"sCOD (S.p.2)","d":416,"v":3.1},{"s":"sCOD (S.p.2)","d":421,"v":3.0},{"s":"sCOD (S.p.2)","d":425,"v":3.26},{"s":"sCOD (S.p.2)","d":430,"v":3.0},{"s":"sCOD (S.p.2)","d":434,"v":2.54},{"s":"sCOD (S.p.2)","d":437,"v":3.0},{"s":"sCOD (S.p.2)","d":440.5,"v":3.4},{"s":"sCOD (S.p.2)","d":443,"v":3.15},{"s":"sCOD (S.p.2)","d":447,"v":2.6},{"s":"sCOD (S.p.2)","d":450,"v":2.3},{"s":"sCOD (S.p.2)","d":453.6,"v":2.07},{"s":"sCOD (S.p.2)","d":457,"v":1.6},{"s":"sCOD (S.p.2)","d":460,"v":1.35},{"s":"sCOD (S.p.2)","d":465,"v":1.6},{"s":"sCOD (S.p.2)","d":469,"v":1.82},{"s":"sCOD (S.p.2)","d":474,"v":2.0},{"s":"sCOD (S.p.2)","d":480,"v":2.18},{"s":"sCOD (S.p.2)","d":485,"v":2.1},{"s":"sCOD (S.p.2)","d":489,"v":2.07},{"s":"sCOD (S.p.2)","d":492,"v":1.5},{"s":"sCOD (S.p.2)","d":495,"v":0.99},{"s":"sCOD (S.p.2)","d":498,"v":1.1},{"s":"sCOD (S.p.2)","d":500,"v":1.22},{"s":"sCOD (S.p.2)","d":504,"v":1.3},{"s":"sCOD (S.p.2)","d":509,"v":1.46},{"s":"sCOD (S.p.2)","d":513,"v":2.43},{"s":"sCOD (S.p.2)","d":518,"v":2.2},{"s":"sCOD (S.p.2)","d":524,"v":1.94},{"s":"sCOD (S.p.2)","d":528,"v":2.1},{"s":"sCOD (S.p.2)","d":533,"v":2.3},{"s":"sCOD (S.p.2)","d":538,"v":2.2},{"s":"sCOD (S.p.2)","d":544,"v":2.43},{"s":"sCOD (S.p.2)","d":548,"v":2.43},
{"s":"sCOD (S.p.2)","d":551,"v":0.9},{"s":"sCOD (S.p.2)","d":555,"v":0.74},{"s":"sCOD (S.p.2)","d":559,"v":0.8},{"s":"sCOD (S.p.2)","d":563,"v":0.9},{"s":"sCOD (S.p.2)","d":566,"v":0.86},{"s":"sCOD (S.p.2)","d":570,"v":0.8},{"s":"sCOD (S.p.2)","d":575,"v":0.75},{"s":"sCOD (S.p.2)","d":580,"v":0.8},{"s":"sCOD (S.p.2)","d":585,"v":0.7},{"s":"sCOD (S.p.2)","d":590,"v":0.75},{"s":"sCOD (S.p.2)","d":595,"v":0.8},{"s":"sCOD (S.p.2)","d":600,"v":0.7},{"s":"sCOD (S.p.2)","d":605,"v":0.75},{"s":"sCOD (S.p.2)","d":610,"v":0.6},{"s":"sCOD (S.p.2)","d":615,"v":0.65},{"s":"sCOD (S.p.2)","d":620,"v":0.55},{"s":"sCOD (S.p.2)","d":625,"v":0.5},{"s":"sCOD (S.p.2)","d":630,"v":0.45},{"s":"sCOD (S.p.2)","d":635,"v":0.3},{"s":"sCOD (S.p.2)","d":640,"v":0.2},{"s":"sCOD (S.p.2)","d":644,"v":0.15},{"s":"sCOD (S.p.2)","d":648,"v":0.3},{"s":"sCOD (S.p.2)","d":652,"v":0.45},{"s":"sCOD (S.p.2)","d":657,"v":0.55},{"s":"sCOD (S.p.2)","d":662,"v":0.6},{"s":"sCOD (S.p.2)","d":667,"v":0.5},{"s":"sCOD (S.p.2)","d":672,"v":0.55},{"s":"sCOD (S.p.2)","d":677,"v":0.6},{"s":"sCOD (S.p.2)","d":682,"v":0.5},{"s":"sCOD (S.p.2)","d":687,"v":0.55},{"s":"sCOD (S.p.2)","d":692,"v":0.6},{"s":"sCOD (S.p.2)","d":697,"v":0.5},{"s":"sCOD (S.p.2)","d":702,"v":0.45},{"s":"sCOD (S.p.2)","d":707,"v":0.5},{"s":"sCOD (S.p.2)","d":712,"v":0.55},{"s":"sCOD (S.p.2)","d":717,"v":0.6},{"s":"sCOD (S.p.2)","d":722,"v":0.65},{"s":"sCOD (S.p.2)","d":727,"v":0.55},{"s":"sCOD (S.p.2)","d":732,"v":0.6},{"s":"sCOD (S.p.2)","d":737,"v":0.65},{"s":"sCOD (S.p.2)","d":742,"v":0.7},{"s":"sCOD (S.p.2)","d":747,"v":0.6},{"s":"sCOD (S.p.2)","d":752,"v":0.55},{"s":"sCOD (S.p.2)","d":757,"v":0.6},{"s":"sCOD (S.p.2)","d":762,"v":0.7},{"s":"sCOD (S.p.2)","d":767,"v":0.65},{"s":"sCOD (S.p.2)","d":772,"v":0.6},{"s":"sCOD (S.p.2)","d":777,"v":0.55},{"s":"sCOD (S.p.2)","d":782,"v":0.6},{"s":"sCOD (S.p.2)","d":787,"v":0.65},{"s":"sCOD (S.p.2)","d":792,"v":0.6},{"s":"sCOD (S.p.2)","d":797,"v":0.55},{"s":"sCOD (S.p.2)","d":802,"v":0.6},{"s":"sCOD (S.p.2)","d":807,"v":0.5},{"s":"sCOD (S.p.2)","d":812,"v":0.5},{"s":"sCOD (S.p.2)","d":817,"v":0.6},{"s":"sCOD (S.p.2)","d":822,"v":0.65},{"s":"sCOD (S.p.2)","d":827,"v":0.7},{"s":"sCOD (S.p.2)","d":832,"v":0.7},{"s":"sCOD (S.p.2)","d":837,"v":0.75},{"s":"sCOD (S.p.2)","d":842,"v":0.75},{"s":"sCOD (S.p.2)","d":847,"v":0.8},{"s":"sCOD (S.p.2)","d":852,"v":0.75},{"s":"sCOD (S.p.2)","d":857,"v":0.8},{"s":"sCOD (S.p.2)","d":862,"v":0.85},{"s":"sCOD (S.p.2)","d":867,"v":0.9},{"s":"sCOD (S.p.2)","d":872,"v":0.85},{"s":"sCOD (S.p.2)","d":877,"v":0.9},{"s":"sCOD (S.p.2)","d":882,"v":0.95},{"s":"sCOD (S.p.2)","d":887,"v":0.9},{"s":"sCOD (S.p.2)","d":892,"v":0.95},{"s":"sCOD (S.p.2)","d":897,"v":1.0},{"s":"sCOD (S.p.2)","d":902,"v":0.95},{"s":"sCOD (S.p.2)","d":907,"v":1.0},{"s":"sCOD (S.p.2)","d":912,"v":1.0},{"s":"sCOD (S.p.2)","d":917,"v":1.05},{"s":"sCOD (S.p.2)","d":922,"v":0.95},{"s":"sCOD (S.p.2)","d":927,"v":0.85},{"s":"sCOD (S.p.2)","d":932,"v":0.75},{"s":"sCOD (S.p.2)","d":937,"v":0.8},{"s":"sCOD (S.p.2)","d":942,"v":0.85},{"s":"sCOD (S.p.2)","d":947,"v":0.9},{"s":"sCOD (S.p.2)","d":952,"v":1.0},{"s":"sCOD (S.p.2)","d":957,"v":1.1},{"s":"sCOD (S.p.2)","d":962,"v":1.2},{"s":"sCOD (S.p.2)","d":967,"v":1.22},{"s":"sCOD (S.p.2)","d":972,"v":1.1},{"s":"sCOD (S.p.2)","d":977,"v":0.95},{"s":"sCOD (S.p.2)","d":982,"v":0.9},{"s":"sCOD (S.p.2)","d":987,"v":1.05},{"s":"sCOD (S.p.2)","d":992,"v":1.2},{"s":"sCOD (S.p.2)","d":997,"v":1.25},{"s":"sCOD (S.p.2)","d":1002,"v":1.1},{"s":"sCOD (S.p.2)","d":1007,"v":0.95},{"s":"sCOD (S.p.2)","d":1012,"v":0.85},{"s":"sCOD (S.p.2)","d":1017,"v":0.75},{"s":"sCOD (S.p.2)","d":1022,"v":0.65},{"s":"sCOD (S.p.2)","d":1027,"v":0.6},{"s":"sCOD (S.p.2)","d":1032,"v":0.55},{"s":"sCOD (S.p.2)","d":1037,"v":0.5},{"s":"sCOD (S.p.2)","d":1042,"v":0.5}
]
},
"layer": [
{"data": {"values": [{"g": 5}, {"g": 10}, {"g": 15}, {"g": 20}, {"g": 25}, {"g": 30}]},
 "mark": {"type": "rule", "color": "#a8a8a8", "strokeWidth": 1},
 "encoding": {"y": {"field": "g", "type": "quantitative", "scale": {"domain": [0, 35], "nice": false},
        "axis": {"title": "tCOD - sCOD (g O₂/L)", "values": [0,5,10,15,20,25,30,35], "labelFontSize": 17, "labelColor": "black", "labelPadding": 6, "tickColor": "black", "tickSize": 5, "domainColor": "black", "domainWidth": 2, "grid": false, "titleFontSize": 19, "titleFontWeight": "normal", "titleColor": "black", "titleX": -54, "titleBaseline": "middle"}}}},
{"data": {"values": [{"d": 308}, {"d": 491}]},
 "mark": {"type": "rule", "color": "black", "strokeWidth": 2, "strokeDash": [5, 3]},
 "encoding": {"x": {"field": "d", "type": "quantitative", "scale": {"domain": [0, 1100], "nice": false},
        "axis": {"title": "Time (days)", "values": [0,50,100,150,200,250,300,350,400,450,500,550,600,650,700,750,800,850,900,950,1000,1050,1100], "format": "d", "labelAngle": -45, "labelAlign": "right", "labelBaseline": "middle", "labelFontSize": 15, "labelColor": "black", "labelPadding": 4, "tickColor": "black", "tickSize": 5, "domainColor": "black", "grid": false, "titleFontSize": 19, "titleFontWeight": "normal", "titleColor": "black", "titleY": 59, "titleBaseline": "middle", "labelFlush": false, "labelOverlap": false}}}},
{"data": {"name": "pts"},
 "mark": {"type": "point", "opacity": 1, "strokeWidth": 1},
 "encoding": {
  "x": {"field": "d", "type": "quantitative", "scale": {"domain": [0, 1100], "nice": false},
        "axis": {"title": "Time (days)", "values": [0,50,100,150,200,250,300,350,400,450,500,550,600,650,700,750,800,850,900,950,1000,1050,1100], "format": "d", "labelAngle": -45, "labelAlign": "right", "labelBaseline": "middle", "labelFontSize": 15, "labelColor": "black", "labelPadding": 4, "tickColor": "black", "tickSize": 5, "domainColor": "black", "grid": false, "titleFontSize": 19, "titleFontWeight": "normal", "titleColor": "black", "titleY": 59, "titleBaseline": "middle", "labelFlush": false, "labelOverlap": false}},
  "y": {"field": "v", "type": "quantitative", "scale": {"domain": [0, 35], "nice": false},
        "axis": {"title": "tCOD - sCOD (g O₂/L)", "values": [0,5,10,15,20,25,30,35], "labelFontSize": 17, "labelColor": "black", "labelPadding": 6, "tickColor": "black", "tickSize": 5, "domainColor": "black", "domainWidth": 2, "grid": false, "titleFontSize": 19, "titleFontWeight": "normal", "titleColor": "black", "titleX": -54, "titleBaseline": "middle"}},
  "shape": {"field": "s", "type": "nominal", "legend": null, "scale": {"domain": ["tCOD (S.p.3)", "sCOD (S.p.3)", "tCOD (S.p.2)", "sCOD (S.p.2)"], "range": ["triangle-up", "circle", "square", "circle"]}},
  "fill": {"field": "s", "type": "nominal", "legend": null, "scale": {"domain": ["tCOD (S.p.3)", "sCOD (S.p.3)", "tCOD (S.p.2)", "sCOD (S.p.2)"], "range": ["black", "transparent", "transparent", "#3b1a21"]}},
  "stroke": {"field": "s", "type": "nominal", "legend": null, "scale": {"domain": ["tCOD (S.p.3)", "sCOD (S.p.3)", "tCOD (S.p.2)", "sCOD (S.p.2)"], "range": ["black", "black", "black", "#3b1a21"]}},
  "size": {"field": "s", "type": "nominal", "legend": null, "scale": {"domain": ["tCOD (S.p.3)", "sCOD (S.p.3)", "tCOD (S.p.2)", "sCOD (S.p.2)"], "range": [70, 70, 70, 100]}}
 }},
{"data": {"values": [{"s": "tCOD (S.p.3)", "d": 214, "v": -7.45}, {"s": "sCOD (S.p.3)", "d": 400, "v": -7.45}, {"s": "tCOD (S.p.2)", "d": 563, "v": -7.45}, {"s": "sCOD (S.p.2)", "d": 760, "v": -7.45}]},
 "mark": {"type": "point", "opacity": 1, "strokeWidth": 1, "size": 45},
 "encoding": {
  "x": {"field": "d", "type": "quantitative"},
  "y": {"field": "v", "type": "quantitative"},
  "shape": {"field": "s", "type": "nominal", "legend": null},
  "fill": {"field": "s", "type": "nominal", "legend": null},
  "stroke": {"field": "s", "type": "nominal", "legend": null}
 }},
{"data": {"values": [{"d": 226, "v": -7.45, "t": "tCOD (S.p.3)"}, {"d": 413, "v": -7.45, "t": "sCOD (S.p.3)"}, {"d": 576, "v": -7.45, "t": "tCOD (S.p.2)"}, {"d": 774, "v": -7.45, "t": "sCOD (S.p.2)"}]},
 "mark": {"type": "text", "fontSize": 17, "font": "Liberation Serif", "color": "black", "align": "left", "baseline": "middle"},
 "encoding": {"x": {"field": "d", "type": "quantitative"}, "y": {"field": "v", "type": "quantitative"}, "text": {"field": "t"}}},
{"data": {"values": [{"d0": -2, "d1": 308, "y": 36.1}]},
 "mark": {"type": "rule", "color": "black", "strokeWidth": 1},
 "encoding": {"x": {"field": "d0", "type": "quantitative"}, "x2": {"field": "d1"}, "y": {"field": "y", "type": "quantitative"}}},
{"data": {"values": [{"d0": 308, "d1": 1096, "y": 36.1}]},
 "mark": {"type": "rule", "color": "#7a7a7a", "strokeWidth": 1.5},
 "encoding": {"x": {"field": "d0", "type": "quantitative"}, "x2": {"field": "d1"}, "y": {"field": "y", "type": "quantitative"}}},
{"data": {"values": [{"d": -2, "y": 36.1}, {"d": 302, "y": 36.1}]},
 "mark": {"type": "point", "shape": "M2,-1.2L0,0L2,1.2", "size": 36, "filled": false, "stroke": "black", "strokeWidth": 1.2, "opacity": 1},
 "encoding": {"x": {"field": "d", "type": "quantitative"}, "y": {"field": "y", "type": "quantitative"}}},
{"data": {"values": [{"d": 313, "y": 36.1}, {"d": 1096, "y": 36.1}]},
 "mark": {"type": "point", "shape": "M-2,-1.2L0,0L-2,1.2", "size": 36, "filled": false, "stroke": "black", "strokeWidth": 1.2, "opacity": 1},
 "encoding": {"x": {"field": "d", "type": "quantitative"}, "y": {"field": "y", "type": "quantitative"}}},
{"data": {"values": [{"d": 169, "y": 37.95, "t": "Period I"}, {"d": 613, "y": 37.95, "t": "Period II"}, {"d": 403, "y": 36.85, "t": "II.1"}, {"d": 725, "y": 36.85, "t": "II.2"}]},
 "mark": {"type": "text", "fontSize": 18, "font": "Liberation Serif", "color": "black", "baseline": "middle"},
 "encoding": {"x": {"field": "d", "type": "quantitative"}, "y": {"field": "y", "type": "quantitative"}, "text": {"field": "t"}}},
{"data": {"values": [{"d": 150.6, "y": 12.45}, {"d": 297, "y": 20.73}, {"d": 444.5, "y": 32.1}, {"d": 602, "y": 18.57}]},
 "mark": {"type": "point", "shape": "M-0.5,-2.85L0.5,-2.85L0.5,1.8L1.1,1.8L0,2.85L-1.1,1.8L-0.5,1.8Z", "size": 400, "filled": true, "fill": "white", "stroke": "black", "strokeWidth": 1.5, "opacity": 1},
 "encoding": {"x": {"field": "d", "type": "quantitative"}, "y": {"field": "y", "type": "quantitative"}}},
{"data": {"values": [{"d": 737.4, "y": 7.03}]},
 "mark": {"type": "point", "shape": "M-3.95,0L-2.68,-0.63L-2.68,-0.3L2.68,-0.3L2.68,-0.63L3.95,0L2.68,0.63L2.68,0.3L-2.68,0.3L-2.68,0.63Z", "size": 400, "filled": true, "fill": "white", "stroke": "black", "strokeWidth": 1.5, "opacity": 1},
 "encoding": {"x": {"field": "d", "type": "quantitative"}, "y": {"field": "y", "type": "quantitative"}}},
{"data": {"values": [{"d": 730, "y": 9.14, "t": "(a)"}]},
 "mark": {"type": "text", "fontSize": 18, "fontWeight": "bold", "font": "Liberation Serif", "color": "black", "baseline": "middle"},
 "encoding": {"x": {"field": "d", "type": "quantitative"}, "y": {"field": "y", "type": "quantitative"}, "text": {"field": "t"}}}
]
}
